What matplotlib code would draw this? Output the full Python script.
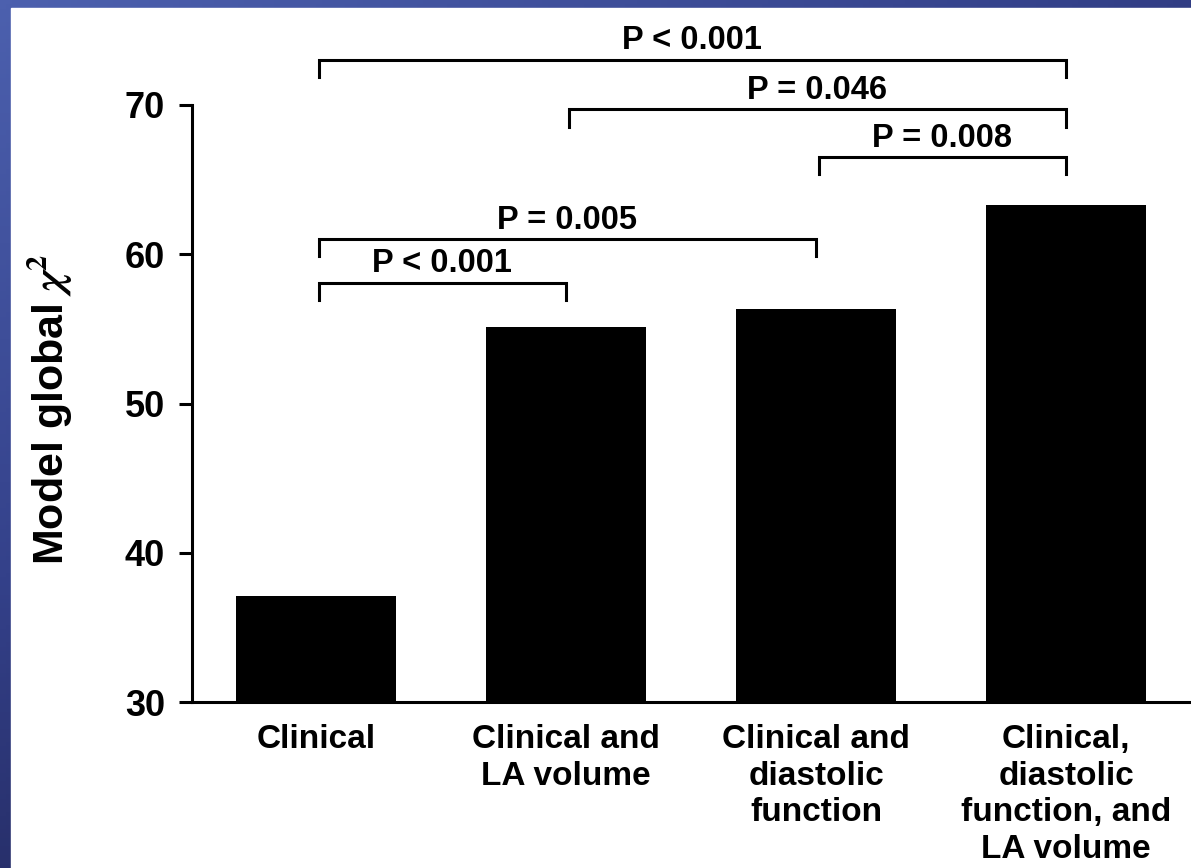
import numpy as np
import matplotlib.pyplot as plt
from matplotlib.colors import LinearSegmentedColormap
from matplotlib.patches import Rectangle

plt.rcParams['font.family'] = ['Liberation Sans', 'DejaVu Sans']
plt.rcParams['font.weight'] = 'bold'
plt.rcParams['mathtext.fontset'] = 'stix'

categories = ["Clinical", "Clinical and\nLA volume", "Clinical and\ndiastolic\nfunction",
              "Clinical,\ndiastolic\nfunction, and\nLA volume"]
chi2 = [37.1, 55.1, 56.3, 63.3]

# comparisons: (left bar, right bar, bracket height, label)
pairs_left = [0, 1, 2, 0, 0]
pairs_right = [3, 3, 3, 2, 1]
bracket_y = [73.0, 69.7, 66.5, 61.0, 58.1]
p_labels = ["P < 0.001", "P = 0.046", "P = 0.008", "P = 0.005", "P < 0.001"]

W, H = 1191, 868
fig = plt.figure(figsize=(W / 100, H / 100), dpi=100)

# slide background: blue gradient with white panel
bg = fig.add_axes([0, 0, 1, 1])
gx, gy = np.meshgrid(np.linspace(0, 1, 200), np.linspace(0, 1, 200))
g = np.clip(0.55 * gx + 0.75 * gy, 0, 1)
cmap = LinearSegmentedColormap.from_list("slide", ["#4c60ae", "#34418a", "#1c1f4e"])
bg.imshow(g, cmap=cmap, extent=[0, 1, 0, 1], aspect="auto", origin="upper")
bg.add_patch(Rectangle((11 / W, 0), 1, 1 - 8 / H, color="white", transform=bg.transAxes))
bg.set_axis_off()

ax = fig.add_axes([192 / W, 1 - 702 / H, 1 - 192 / W, (702 - 105) / H])
ax.patch.set_alpha(0)
x = np.arange(len(categories))
ax.bar(x, [v - 30 for v in chi2], bottom=30, width=0.64, color="black")

ax.set_ylim(30, 70)
ax.set_xlim(-0.496, 3.5)
ax.set_yticks([30, 40, 50, 60, 70])
ax.set_xticks(x)
ax.set_xticklabels(categories, fontsize=24, fontweight="bold", linespacing=1.23)
ax.tick_params(axis="y", labelsize=26, width=2.2, length=9.5, pad=10)
ax.tick_params(axis="x", length=0, pad=16)
for lbl in ax.get_yticklabels():
    lbl.set_fontweight("bold")
for s in ["top", "right"]:
    ax.spines[s].set_visible(False)
ax.spines["left"].set_linewidth(2.2)
ax.spines["bottom"].set_linewidth(2.2)
ax.set_ylabel("Model global $\\chi^2$", fontsize=31, fontweight="bold")
ax.yaxis.set_label_coords(-0.118, 0.49)

drop = 1.15
for l, r, yb, txt in zip(pairs_left, pairs_right, bracket_y, p_labels):
    xl, xr = x[l] + 0.01, x[r]
    ax.plot([xl, xl, xr, xr], [yb - drop, yb, yb, yb - drop], color="black",
            lw=2.2, clip_on=False, solid_joinstyle="miter")
    ax.text((xl + xr) / 2, yb + 0.25, txt, ha="center", va="bottom",
            fontsize=23.5, fontweight="bold", clip_on=False)

fig.savefig("out.png", dpi=100)
